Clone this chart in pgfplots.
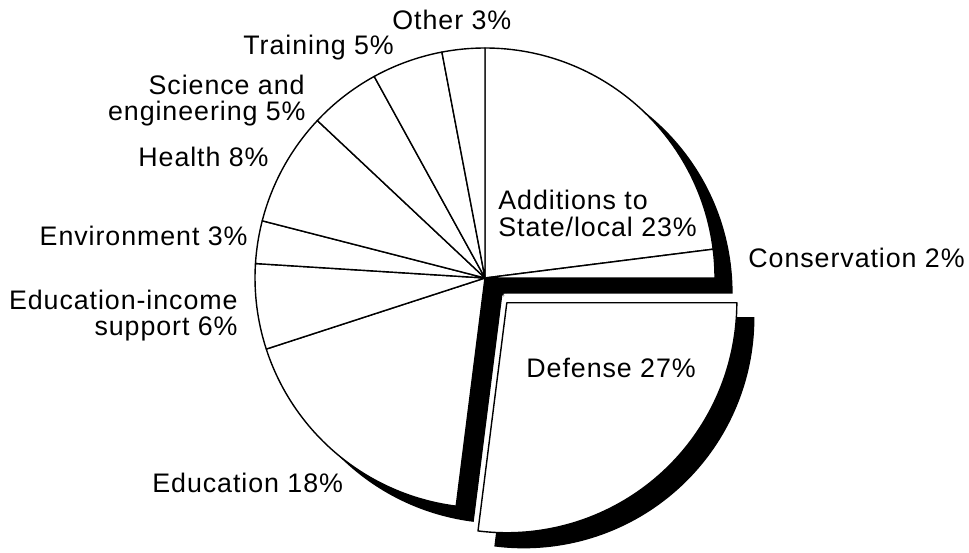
\documentclass[border=0pt]{standalone}
\usepackage{pgfplots}
\usepackage{pgfplotstable}
\pgfplotsset{compat=1.18}
\usepackage{fontspec}
\setmainfont{Liberation Sans}[LetterSpace=3.5]

% shares in percent, clockwise from 12 o'clock; explode=1 pulls the slice out
\pgfplotstableread{
pct explode
23 0
2  0
27 1
18 0
6  0
3  0
8  0
5  0
5  0
3  0
}\piedata

% geometry in picture units (1 unit = 0.5pt)
\def\cx{485}\def\cy{270}
\def\R{115pt}
\def\shx{17}\def\shy{-15}
\def\expl{33}

\tikzset{lbl/.style={inner sep=0pt, font=\fontsize{13.4}{15}\selectfont}}

\begin{document}
\begin{tikzpicture}
\begin{axis}[
  hide axis, scale only axis,
  width=484.5pt, height=274pt,
  xmin=0, xmax=969, ymin=0, ymax=548,
  clip=false,
]
\addplot[draw=none] coordinates {(0,0) (969,548)};

\pgfplotstablegetrowsof{\piedata}
\pgfmathtruncatemacro\last{\pgfplotsretval-1}

% drop shadows
\def\cum{0}
\pgfplotsforeachungrouped \i in {0,...,\last}{%
  \pgfplotstablegetelem{\i}{pct}\of\piedata \let\pv\pgfplotsretval
  \pgfplotstablegetelem{\i}{explode}\of\piedata \let\ev\pgfplotsretval
  \pgfmathsetmacro\angA{90-3.6*\cum}
  \pgfmathsetmacro\angB{\angA-3.6*\pv}
  \pgfmathsetmacro\angM{(\angA+\angB)/2}
  \pgfmathsetmacro\px{\cx+\ev*\expl*cos(\angM)+\shx}
  \pgfmathsetmacro\py{\cy+\ev*\expl*sin(\angM)+\shy}
  \pgfmathsetmacro\cum{\cum+\pv}
  \edef\temp{\noexpand\filldraw[black, line width=0.6pt]
    (axis cs:\px,\py) -- ++(\angA:\R)
    arc[start angle=\angA, end angle=\angB, radius=\R] -- cycle;}
  \temp
}

% slices
\def\cum{0}
\pgfplotsforeachungrouped \i in {0,...,\last}{%
  \pgfplotstablegetelem{\i}{pct}\of\piedata \let\pv\pgfplotsretval
  \pgfplotstablegetelem{\i}{explode}\of\piedata \let\ev\pgfplotsretval
  \pgfmathsetmacro\angA{90-3.6*\cum}
  \pgfmathsetmacro\angB{\angA-3.6*\pv}
  \pgfmathsetmacro\angM{(\angA+\angB)/2}
  \pgfmathsetmacro\px{\cx+\ev*\expl*cos(\angM)}
  \pgfmathsetmacro\py{\cy+\ev*\expl*sin(\angM)}
  \pgfmathsetmacro\cum{\cum+\pv}
  \edef\temp{\noexpand\filldraw[fill=white, draw=black, line width=0.7pt, line join=round]
    (axis cs:\px,\py) -- ++(\angA:\R)
    arc[start angle=\angA, end angle=\angB, radius=\R] -- cycle;}
  \temp
}

% labels
\node[lbl, anchor=base west] at (axis cs:392,518) {Other 3\%};
\node[lbl, anchor=base west] at (axis cs:243,493) {Training 5\%};
\node[lbl, anchor=base east] at (axis cs:305,453) {Science and};
\node[lbl, anchor=base east] at (axis cs:306,427) {engineering 5\%};
\node[lbl, anchor=base east] at (axis cs:269,381) {Health 8\%};
\node[lbl, anchor=base east] at (axis cs:248,302) {Environment 3\%};
\node[lbl, anchor=base east] at (axis cs:238,238) {Education-income};
\node[lbl, anchor=base east] at (axis cs:238,212) {support 6\%};
\node[lbl, anchor=base west] at (axis cs:152,55) {Education 18\%};
\node[lbl, anchor=base west] at (axis cs:526,170) {Defense 27\%};
\node[lbl, anchor=base west] at (axis cs:498,338) {Additions to};
\node[lbl, anchor=base west] at (axis cs:498,311) {State/local 23\%};
\node[lbl, anchor=base west] at (axis cs:748,280) {Conservation 2\%};
\end{axis}
\end{tikzpicture}
\end{document}
